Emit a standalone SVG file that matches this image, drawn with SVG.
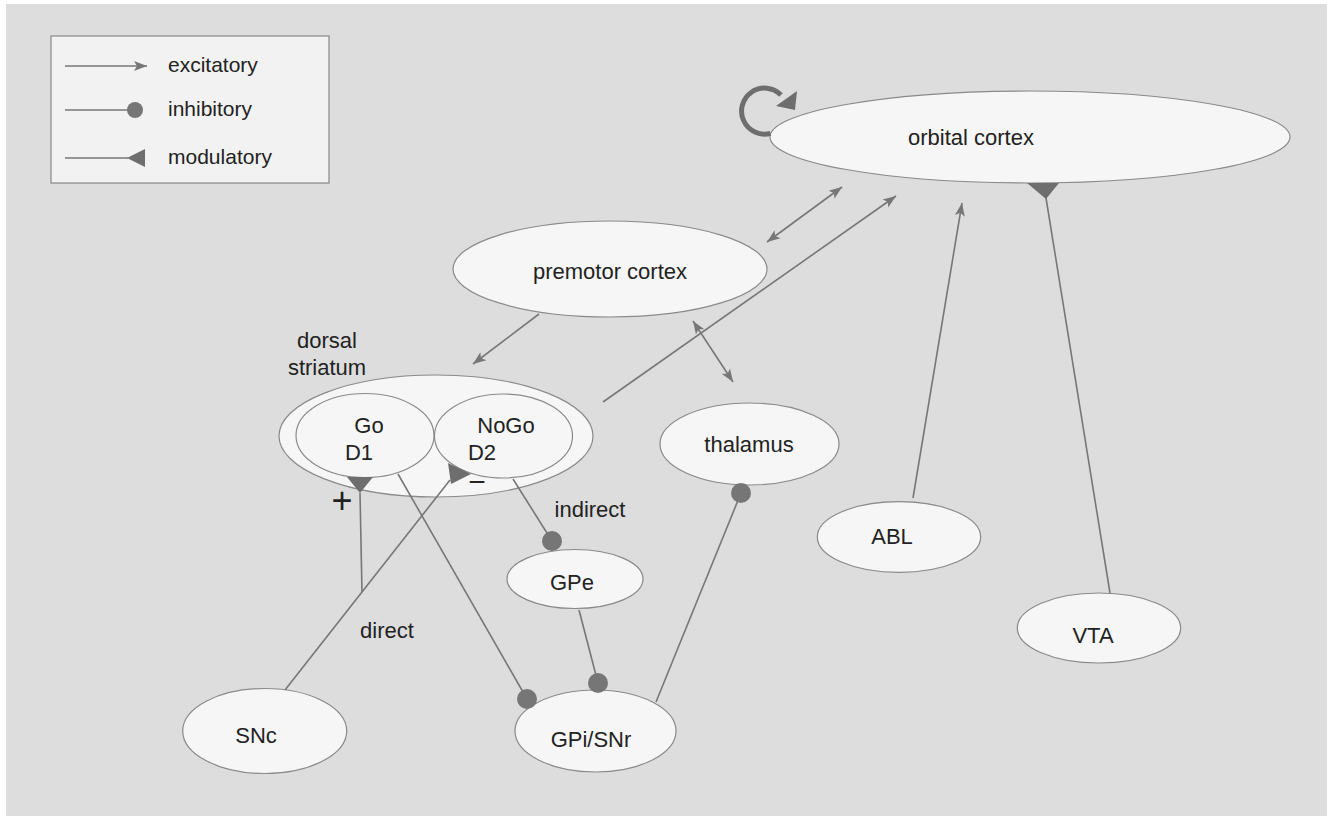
<svg xmlns="http://www.w3.org/2000/svg" width="1334" height="816" viewBox="0 0 1334 816">
<defs>
<style>
.node{fill:#f6f6f6;stroke:#8a8a8a;stroke-width:1.2}
.lbl{font-family:"Liberation Sans",Arial,sans-serif;font-size:22px;fill:#222;text-anchor:middle}
.leg{font-family:"Liberation Sans",Arial,sans-serif;font-size:21px;fill:#222}
.ln{stroke:#777;stroke-width:1.6;fill:none}
.dot{fill:#767676}
.mod{fill:#6e6e6e}
</style>
<marker id="arr" markerUnits="userSpaceOnUse" markerWidth="16" markerHeight="12" refX="13" refY="5" orient="auto-start-reverse" overflow="visible">
<path d="M0,0 L13,5 L0,10 L3,5 Z" fill="#777"/>
</marker>
</defs>
<rect x="0" y="0" width="1334" height="816" fill="#ffffff"/>
<rect x="6" y="4" width="1321" height="812" fill="#dddddd"/>

<g id="legend">
<rect x="51" y="36" width="278" height="147" fill="#f2f2f2" stroke="#888" stroke-width="1.2"/>
<line class="ln" x1="65" y1="66" x2="147" y2="66" marker-end="url(#arr)"/>
<text class="leg" x="168" y="72">excitatory</text>
<line class="ln" x1="65" y1="110" x2="135" y2="110"/>
<circle class="dot" cx="135" cy="110" r="8"/>
<text class="leg" x="168" y="116">inhibitory</text>
<line class="ln" x1="65" y1="158" x2="128" y2="158"/>
<polygon class="mod" points="127,158 145,149 145,167"/>
<text class="leg" x="168" y="164">modulatory</text>
</g>

<g id="orbital-cortex">
<ellipse class="node" cx="1030" cy="137" rx="260" ry="46"/>
<text class="lbl" x="971" y="145">orbital cortex</text>
</g>
<g id="premotor-cortex">
<ellipse class="node" cx="610" cy="269" rx="157" ry="48"/>
<text class="lbl" x="610" y="279">premotor cortex</text>
</g>
<g id="dorsal-striatum">
<ellipse class="node" cx="436" cy="436" rx="157" ry="61"/>
<text class="lbl" x="327" y="348">dorsal</text>
<text class="lbl" x="327" y="375">striatum</text>
</g>
<g id="go-d1">
<ellipse class="node" cx="365" cy="435.5" rx="69" ry="42"/>
<text class="lbl" x="369" y="433">Go</text>
<text class="lbl" x="359" y="460">D1</text>
</g>
<g id="nogo-d2">
<ellipse class="node" cx="503.5" cy="436" rx="69" ry="42"/>
<text class="lbl" x="506" y="433">NoGo</text>
<text class="lbl" x="482" y="460">D2</text>
</g>
<g id="thalamus">
<ellipse class="node" cx="749.5" cy="444" rx="89.5" ry="41"/>
<text class="lbl" x="749" y="452">thalamus</text>
</g>
<g id="gpe">
<ellipse class="node" cx="575" cy="579" rx="68" ry="29.5"/>
<text class="lbl" x="572" y="590">GPe</text>
</g>
<g id="gpi-snr">
<ellipse class="node" cx="595.5" cy="731" rx="80.5" ry="41"/>
<text class="lbl" x="591" y="747">GPi/SNr</text>
</g>
<g id="snc">
<ellipse class="node" cx="264.7" cy="731" rx="82" ry="42.5"/>
<text class="lbl" x="256" y="743">SNc</text>
</g>
<g id="abl">
<ellipse class="node" cx="899" cy="537" rx="81.7" ry="35.3"/>
<text class="lbl" x="892" y="544">ABL</text>
</g>
<g id="vta">
<ellipse class="node" cx="1099" cy="628" rx="81.7" ry="35"/>
<text class="lbl" x="1093" y="643">VTA</text>
</g>

<g id="connectors">
<path d="M770.6,133.3 A23 23 0 1 1 781,95" fill="none" stroke="#6e6e6e" stroke-width="5"/>
<polygon points="776,106 797,91 795,110" fill="#6e6e6e"/>
<line class="ln" x1="539" y1="314" x2="473" y2="364" marker-end="url(#arr)"/>
<line class="ln" x1="767" y1="242" x2="842" y2="187" marker-start="url(#arr)" marker-end="url(#arr)"/>
<line class="ln" x1="693" y1="321" x2="733" y2="382" marker-start="url(#arr)" marker-end="url(#arr)"/>
<line class="ln" x1="603" y1="402" x2="896" y2="196" marker-end="url(#arr)"/>
<line class="ln" x1="913" y1="498" x2="962" y2="203" marker-end="url(#arr)"/>
<line class="ln" x1="398" y1="474" x2="527" y2="699"/>
<circle class="dot" cx="527" cy="699" r="10"/>
<line class="ln" x1="513" y1="479" x2="552" y2="541"/>
<circle class="dot" cx="552" cy="541" r="10"/>
<line class="ln" x1="579" y1="610" x2="598" y2="683"/>
<circle class="dot" cx="598" cy="683" r="10"/>
<line class="ln" x1="656" y1="702" x2="741" y2="493"/>
<circle class="dot" cx="741" cy="493" r="10"/>
<line class="ln" x1="362" y1="592" x2="360" y2="493"/>
<polygon class="mod" points="347,477 373,477 360,493"/>
<line class="ln" x1="285" y1="690" x2="450" y2="480"/>
<polygon class="mod" points="448,463 451,484 471,474"/>
<line class="ln" x1="1110" y1="593" x2="1046" y2="198"/>
<polygon class="mod" points="1027,183 1059,183 1046,199"/>
</g>

<g id="labels">
<text class="lbl" x="342" y="513" style="font-size:36px">+</text>
<text class="lbl" x="477" y="492" style="font-size:30px">−</text>
<text class="lbl" x="590" y="517">indirect</text>
<text class="lbl" x="387" y="638">direct</text>
</g>
</svg>
